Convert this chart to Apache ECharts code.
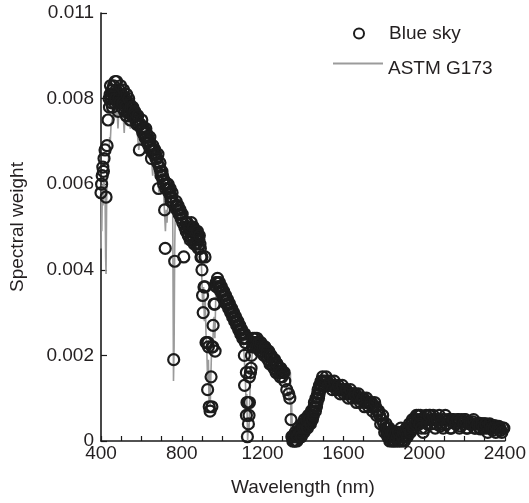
<!DOCTYPE html>
<html>
<head>
<meta charset="utf-8">
<script src="https://cdn.jsdelivr.net/npm/echarts@6/dist/echarts.min.js"></script>
<style>
html,body{margin:0;padding:0;background:#fff;}
#chart{width:529px;height:503px;}
</style>
</head>
<body>
<div id="chart"></div>
<script>
// Blue sky measured spectral weights (circles), first reading pass
const skyWavelengthA = [
400,403,406,409,412,415,420,425,430,435,440,445,450,455,460,465,470,475,480,485,
490,495,500,505,510,515,520,525,530,535,540,545,550,555,560,570,575,580,585,590,
595,600,605,610,620,625,630,640,645,650,655,660,670,680,685,690,695,700,705,710,
715,718,720,725,730,740,745,750,755,760,765,770,775,780,790,795,800,805,810,815,
820,830,840,845,850,855,860,870,875,880,885,890,895,900,900,903,906,910,915,915,
920,924,928,930,932,936,940,945,949,950,954,955,960,964,965,970,975,980,985,990,
1000,1005,1010,1020,1025,1030,1040,1045,1050,1060,1065,1070,1080,1085,1090,1095,1100,1105,1110,1111,
1115,1120,1120,1123,1125,1127,1130,1133,1135,1135,1140,1143,1145,1150,1155,1160,1170,1180,1190,1200,
1210,1220,1230,1240,1250,1260,1270,1280,1290,1300,1307,1310,1320,1330,1335,1341,1345,1350,1355,1360,
1365,1370,1375,1380,1385,1390,1395,1400,1405,1410,1415,1420,1425,1430,1435,1440,1445,1450,1455,1460,
1465,1470,1475,1480,1485,1490,1495,1500,1510,1520,1530,1540,1550,1560,1570,1580,1590,1600,1610,1620,
1630,1640,1650,1660,1670,1680,1690,1700,1710,1720,1730,1740,1750,1760,1770,1780,1790,1800,1810,1815,
1820,1825,1830,1840,1850,1860,1870,1880,1885,1890,1900,1910,1920,1930,1940,1950,1960,1970,1980,1990,
1995,2000,2005,2010,2020,2030,2040,2050,2060,2070,2080,2090,2100,2110,2120,2130,2140,2150,2160,2170,
2180,2190,2200,2210,2220,2230,2240,2250,2260,2270,2280,2290,2300,2310,2320,2330,2340,2350,2360,2370,
2380,2390,2395
];
const skyWeightA = [
.0058,.0060,.0062,.0064,.0063,.0066,.0068,.0057,.0069,.0075,.0080,.0081,.0080,.0082,.0081,.0080,.0084,.0082,.0081,.0077,
.0082,.0081,.0080,.0081,.0080,.0079,.0080,.0076,.0079,.0078,.0079,.0075,.0078,.0077,.0077,.0076,.0076,.0075,.0074,.0068,
.0074,.0073,.0073,.0072,.0071,.0072,.0070,.0070,.0069,.0066,.0068,.0068,.0067,.0065,.0059,.0064,.0063,.0062,.0062,.0060,
.0054,.0045,.0059,.0060,.0059,.0058,.0057,.0057,.0056,.0019,.0042,.0055,.0055,.0054,.0053,.0053,.0052,.0051,.0043,.0050,
.0051,.0050,.0049,.0050,.0049,.0048,.0049,.0048,.0047,.0048,.0047,.0046,.0043,.0043,.0040,.0034,.0030,.0036,.0043,.0036,
.0023,.0023,.0012,.0023,.0022,.0008,.0007,.0015,.0008,.0022,.0022,.0027,.0032,.0032,.0021,.0037,.0037,.0037,.0036,.0036,
.0035,.0034,.0034,.0033,.0032,.0032,.0031,.0030,.0030,.0029,.0028,.0028,.0027,.0026,.0026,.0025,.0025,.0024,.0020,.0013,
.0023,.0016,.0006,.0009,.0001,.0009,.0004,.0006,.0015,.0009,.0016,.0017,.0020,.0022,.0023,.0023,.0023,.0023,.0022,.0022,
.0022,.0021,.0021,.0020,.0019,.0019,.0018,.0017,.0017,.0016,.0016,.0014,.0012,.0011,.0010,.0005,.0001,.0000,.0001,.0000,
.0001,.0000,.0002,.0001,.0001,.0003,.0002,.0003,.0002,.0004,.0003,.0004,.0005,.0004,.0006,.0005,.0006,.0007,.0008,.0008,
.0010,.0009,.0012,.0011,.0013,.0014,.0014,.0014,.0014,.0014,.0013,.0013,.0013,.0013,.0012,.0012,.0012,.0012,.0012,.0011,
.0011,.0011,.0011,.0011,.0010,.0010,.0010,.0010,.0009,.0009,.0009,.0009,.0008,.0008,.0007,.0006,.0005,.0004,.0003,.0002,
.0001,.0001,.0000,.0001,.0000,.0001,.0000,.0001,.0003,.0000,.0001,.0001,.0002,.0002,.0003,.0003,.0004,.0004,.0005,.0005,
.0002,.0005,.0003,.0006,.0005,.0006,.0005,.0005,.0004,.0005,.00035,.0005,.0005,.0004,.0005,.0003,.0005,.00045,.0004,.0005,
.00035,.00045,.0005,.0003,.00045,.0004,.00045,.0003,.0004,.00042,.00028,.0004,.0004,.0003,.00038,.00035,.00025,.00036,.00032,.00034,
.00025,.0003,.0003
];
// Blue sky, second reading pass (points filling the thick bands)
const skyWavelengthB = [
442,447,452,457,462,467,472,477,482,487,492,497,502,507,512,517,522,527,532,537,
542,547,552,557,562,567,572,577,582,602,607,612,617,622,627,632,637,642,647,657,
662,667,672,677,682,692,697,702,707,712,732,737,742,747,752,772,777,782,787,792,
797,802,822,827,832,837,842,847,852,857,862,867,872,877,882,887,892,972,977,982,
987,992,997,1002,1007,1012,1017,1022,1027,1032,1037,1042,1047,1052,1057,1062,1067,1072,1077,1082,
1087,1092,1097,1102,1107,1112,1117,1152,1157,1162,1167,1172,1177,1182,1187,1192,1197,1202,1207,1212,
1217,1222,1227,1232,1237,1242,1247,1252,1257,1262,1267,1272,1277,1282,1287,1292,1297,1352,1357,1362,
1367,1372,1377,1382,1387,1392,1397,1402,1407,1412,1417,1422,1427,1432,1437,1442,1447,1452,1457,1462,
1467,1472,1477,1482,1487,1492,1497,1505,1515,1525,1535,1545,1555,1565,1575,1585,1595,1605,1615,1625,
1635,1645,1655,1665,1675,1685,1695,1705,1715,1725,1735,1745,1755,1765,1775,1785,1795,1805,1812,1817,
1822,1827,1832,1837,1842,1847,1852,1857,1862,1867,1872,1877,1892,1897,1902,1907,1912,1917,1922,1927,
1932,1937,1942,1947,1952,1957,1962,1967,1972,1977,1982,1987,2015,2025,2035,2045,2055,2065,2075,2085,
2095,2105,2115,2125,2135,2145,2155,2165,2175,2185,2195,2205,2215,2225,2235,2245,2255,2265,2275,2285,
2295,2305,2315,2325,2335,2345,2355,2365,2375,2385
];
const skyWeightB = [
.0078,.0083,.0079,.0078,.0083,.0079,.0080,.0084,.0079,.0080,.0079,.0083,.0078,.0079,.0082,.0077,.0078,.0081,.0077,.0080,
.0077,.0078,.0076,.0078,.0076,.0077,.0075,.0074,.0076,.0075,.0072,.0073,.0071,.0073,.0070,.0071,.0069,.0071,.0068,.0069,
.0067,.0068,.0066,.0066,.0067,.0065,.0062,.0063,.0061,.0061,.0060,.0058,.0059,.0056,.0058,.0056,.0054,.0055,.0053,.0054,
.0052,.0053,.0049,.0051,.0048,.0050,.0047,.0051,.0047,.0050,.0046,.0049,.0046,.0049,.0045,.0048,.0045,.0036,.0038,.0036,
.0037,.0035,.0036,.0034,.0035,.0033,.0034,.0032,.0033,.0031,.0032,.0030,.0031,.0029,.0030,.0028,.0029,.0027,.0028,.0026,
.0027,.0025,.0026,.0024,.0025,.0025,.0024,.0024,.0022,.0024,.0022,.0024,.0022,.0023,.0021,.0023,.0021,.0022,.0020,.0022,
.0020,.0021,.0019,.0020,.0018,.0020,.0018,.0019,.0017,.0018,.0016,.0018,.0016,.0017,.0015,.0016,.0015,.0001,.0000,.0002,
.0001,.0001,.0003,.0002,.0002,.0001,.0004,.0003,.0005,.0003,.0005,.0003,.0006,.0005,.0004,.0007,.0005,.0006,.0009,.0007,
.0008,.0011,.0010,.0013,.0012,.0013,.0015,.0013,.0015,.0013,.0014,.0012,.0014,.0012,.0013,.0011,.0013,.0011,.0012,.0010,
.0012,.0010,.0011,.0009,.0011,.0009,.0010,.0008,.0010,.0008,.0009,.0007,.0009,.0006,.0007,.0004,.0006,.0002,.0004,.0003,
.0002,.0003,.0001,.0002,.0000,.0002,.0001,.0000,.0002,.0001,.0002,.0000,.0001,.0002,.0000,.0002,.0003,.0001,.0003,.0004,
.0002,.0004,.0005,.0003,.0005,.0004,.0006,.0005,.0006,.0004,.0006,.0003,.0004,.0006,.0004,.0006,.0003,.0005,.0006,.0004,
.0003,.0006,.0004,.0005,.0003,.0005,.0004,.0005,.0003,.0005,.0004,.0005,.0003,.0004,.0004,.0005,.0003,.0004,.0003,.0004,
.0003,.0004,.0002,.0004,.0003,.0003,.0002,.0003,.0003,.0002
];
// ASTM G173 reference spectrum (grey line)
const astmWavelength = [
400,402,404,407,410,413,417,420,423,425,428,431,434,437,440,443,446,450,455,460,
465,470,475,480,484,487,490,495,500,505,510,515,518,525,530,540,545,550,560,570,
580,587,592,600,610,620,630,640,650,656,660,670,680,687,692,700,710,716,719,723,
727,732,740,750,755,759,762,765,768,780,790,800,810,815,820,825,840,860,880,890,
897,900,904,908,912,916,920,924,928,932,935,938,941,944,948,952,956,960,964,968,
972,980,990,1000,1020,1040,1060,1080,1095,1105,1110,1115,1119,1122,1126,1130,1133,1136,1140,1145,
1150,1160,1170,1180,1200,1230,1260,1290,1305,1315,1325,1335,1338,1341,1344,1348,1355,1370,1380,1390,
1400,1410,1420,1430,1440,1450,1460,1470,1480,1490,1500,1520,1550,1600,1650,1700,1750,1780,1795,1810,
1820,1840,1870,1900,1920,1940,1960,1980,2000,2050,2100,2200,2300,2400
];
const astmWeight = [
.0045,.0058,.0049,.0060,.0055,.0061,.0060,.0058,.0043,.0039,.0056,.0063,.0062,.0066,.0068,.0071,.0070,.0074,.0075,.0076,
.0075,.0077,.0076,.0077,.0073,.0076,.0077,.0076,.0076,.0075,.0076,.0072,.0075,.0075,.0074,.0075,.0073,.0074,.0074,.0073,
.0072,.0068,.0070,.0071,.0070,.0069,.0068,.0067,.0066,.0062,.0065,.0064,.0063,.0058,.0061,.0060,.0058,.0052,.0049,.0054,
.0051,.0056,.0057,.0056,.0055,.0014,.0022,.0045,.0054,.0054,.0053,.0052,.0050,.0046,.0048,.0049,.0049,.0048,.0047,.0045,
.0042,.0037,.0031,.0036,.0028,.0033,.0025,.0021,.0014,.0019,.0009,.0016,.0008,.0015,.0022,.0020,.0026,.0029,.0024,.0033,
.0036,.0037,.0036,.0035,.0033,.0031,.0029,.0027,.0025,.0023,.0019,.0014,.0008,.0011,.0000,.0004,.0002,.0009,.0014,.0018,
.0021,.0023,.0024,.0023,.0022,.0021,.0019,.0017,.0016,.0013,.0011,.0009,.0016,.0003,.0009,.0001,.0000,.0001,.0000,.0001,
.0002,.0002,.0003,.0004,.0005,.0007,.0008,.0010,.0011,.0013,.0013,.0014,.0013,.0012,.0011,.0010,.0008,.0006,.0004,.0002,
.0001,.0000,.0000,.0001,.0002,.0003,.0004,.0005,.0005,.0005,.0005,.0004,.0004,.0003
];
const seriesNames = ['Blue sky', 'ASTM G173'];
const xTickLabels = ['400','800','1200','1600','2000','2400'];
const yTickLabels = ['0','0.002','0.004','0.006','0.008','0.011'];

const skyData = skyWavelengthA.map((x, i) => [x, skyWeightA[i]])
  .concat(skyWavelengthB.map((x, i) => [x, skyWeightB[i]]));
const astmData = astmWavelength.map((x, i) => [x, astmWeight[i]]);

const FONT = 'Liberation Sans, Arial, Helvetica, sans-serif';
const TXT = '#231f20';

const chart = echarts.init(document.getElementById('chart'), null, {renderer: 'canvas'});
chart.setOption({
  animation: false,
  backgroundColor: '#fff',
  grid: {left: 100, right: 21, top: 13, bottom: 62, containLabel: false},
  legend: [
    {
      data: [{name: seriesNames[0], icon: 'circle'}], orient: 'vertical', left: 353, top: 24, padding: 0,
      itemWidth: 10, itemHeight: 10, itemGap: 0,
      textStyle: {fontFamily: FONT, fontSize: 19, color: TXT, padding: [3, 0, 0, 20]}
    },
    {
      data: [{name: seriesNames[1], icon: 'path://M0,0H50V2H0Z M0,12H50'}], orient: 'vertical', left: 333, top: 59, padding: 0,
      itemWidth: 50, itemHeight: 12, itemGap: 0,
      textStyle: {fontFamily: FONT, fontSize: 19, color: TXT, padding: [10, 0, 0, 0]}
    }
  ],
  xAxis: {
    type: 'value', min: 400, max: 2400, interval: 400,
    name: 'Wavelength (nm)', nameLocation: 'middle', nameGap: 37,
    nameTextStyle: {fontFamily: FONT, fontSize: 19, color: TXT},
    axisLine: {show: true, lineStyle: {color: '#1a1a1a', width: 1.6}},
    axisTick: {show: true, inside: true, length: 5, lineStyle: {color: '#1a1a1a', width: 1.2}},
    minorTick: {show: true, splitNumber: 4, length: 5, lineStyle: {color: '#1a1a1a', width: 1.2}},
    axisLabel: {fontFamily: FONT, fontSize: 19, color: TXT, margin: 3,
      formatter: (v, i) => xTickLabels[i]},
    splitLine: {show: false}, minorSplitLine: {show: false}
  },
  yAxis: {
    type: 'value', min: 0, max: 0.010, interval: 0.002,
    name: 'Spectral weight', nameLocation: 'middle', nameGap: 74,
    nameTextStyle: {fontFamily: FONT, fontSize: 19, color: TXT},
    axisLine: {show: true, lineStyle: {color: '#1a1a1a', width: 1.6}},
    axisTick: {show: true, inside: true, length: 6, lineStyle: {color: '#1a1a1a', width: 1.2}},
    axisLabel: {fontFamily: FONT, fontSize: 19, color: TXT, margin: 7,
      formatter: (v, i) => yTickLabels[i]},
    splitLine: {show: false}
  },
  series: [
    {
      name: seriesNames[1], type: 'line', data: astmData, symbol: 'none', showSymbol: false,
      lineStyle: {color: '#9b9b9b', width: 1.6}, itemStyle: {color: '#9b9b9b'}, z: 2
    },
    {
      name: seriesNames[0], type: 'scatter', data: skyData, symbol: 'circle', symbolSize: 11,
      itemStyle: {color: 'rgba(0,0,0,0)', borderColor: '#1c1c1c', borderWidth: 2.2, opacity: 1}, z: 3
    }
  ]
});
</script>
</body>
</html>
